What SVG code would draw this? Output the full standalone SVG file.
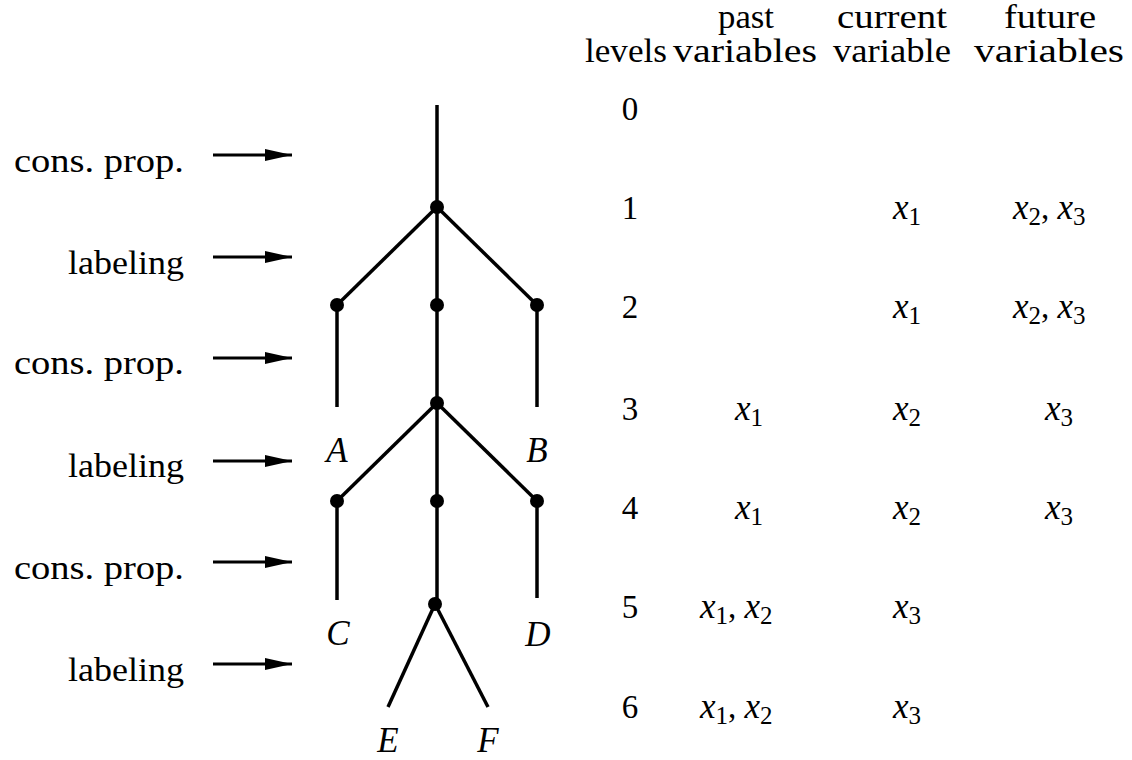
<svg xmlns="http://www.w3.org/2000/svg" width="1132" height="760" viewBox="0 0 1132 760" font-family="'Liberation Serif', 'DejaVu Serif', 'Noto Serif', 'Nimbus Roman', FreeSerif, Times, serif">
<defs>
<style>
text{font-family:'Liberation Serif', 'DejaVu Serif', 'Noto Serif', 'Nimbus Roman', FreeSerif, Times, serif;fill:#000;font-size:33px}
.it{font-style:italic;font-size:35px}
.sub{font-size:25px;font-style:normal}
.lab{text-anchor:end}
.mid{text-anchor:middle}
.edge{stroke:#000;stroke-width:3.5;fill:none;stroke-linecap:butt}
.arr{stroke:#000;stroke-width:3;fill:none}
.dot{fill:#000}
</style>
<marker id="ah" markerWidth="28" markerHeight="14" refX="27" refY="7" orient="auto" markerUnits="userSpaceOnUse">
<path d="M0,1 L27,7 L0,13 Z" fill="#000"/>
</marker>
</defs>
<rect width="1132" height="760" fill="#fff"/>

<g id="connectors">
<line class="edge" x1="437" y1="105" x2="437" y2="604"/>
<line class="edge" x1="437" y1="207" x2="337" y2="305"/>
<line class="edge" x1="437" y1="207" x2="537" y2="305"/>
<line class="edge" x1="337" y1="305" x2="337" y2="407"/>
<line class="edge" x1="537" y1="305" x2="537" y2="407"/>
<line class="edge" x1="437" y1="403" x2="337" y2="501"/>
<line class="edge" x1="437" y1="403" x2="537" y2="501"/>
<line class="edge" x1="337" y1="501" x2="337" y2="600"/>
<line class="edge" x1="537" y1="501" x2="537" y2="598"/>
<line class="edge" x1="435" y1="604" x2="388" y2="707"/>
<line class="edge" x1="435" y1="604" x2="488" y2="707"/>
<line class="arr" x1="213" y1="155" x2="292" y2="155" marker-end="url(#ah)"/>
<line class="arr" x1="213" y1="257" x2="292" y2="257" marker-end="url(#ah)"/>
<line class="arr" x1="213" y1="358" x2="292" y2="358" marker-end="url(#ah)"/>
<line class="arr" x1="213" y1="461" x2="292" y2="461" marker-end="url(#ah)"/>
<line class="arr" x1="213" y1="562" x2="292" y2="562" marker-end="url(#ah)"/>
<line class="arr" x1="213" y1="664" x2="292" y2="664" marker-end="url(#ah)"/>
</g>

<g id="nodes">
<circle id="n0" class="dot" cx="437" cy="207" r="7"/>
<circle id="n1" class="dot" cx="337" cy="305" r="7"/>
<circle id="n2" class="dot" cx="437" cy="305" r="7"/>
<circle id="n3" class="dot" cx="537" cy="305" r="7"/>
<circle id="n4" class="dot" cx="437" cy="403" r="7"/>
<circle id="n5" class="dot" cx="337" cy="501" r="7"/>
<circle id="n6" class="dot" cx="437" cy="501" r="7"/>
<circle id="n7" class="dot" cx="537" cy="501" r="7"/>
<circle id="n8" class="dot" cx="435" cy="604" r="7"/>
</g>

<g id="leaf-labels">
<text class="it mid" x="337" y="462">A</text>
<text class="it mid" x="537" y="462">B</text>
<text class="it mid" x="338" y="645">C</text>
<text class="it mid" x="538" y="646">D</text>
<text class="it mid" x="388" y="752">E</text>
<text class="it mid" x="488" y="752">F</text>
</g>

<g id="step-labels">
<text class="lab" x="184" y="172" textLength="170" lengthAdjust="spacingAndGlyphs">cons. prop.</text>
<text class="lab" x="184" y="274" textLength="116" lengthAdjust="spacingAndGlyphs">labeling</text>
<text class="lab" x="184" y="374" textLength="170" lengthAdjust="spacingAndGlyphs">cons. prop.</text>
<text class="lab" x="184" y="477" textLength="116" lengthAdjust="spacingAndGlyphs">labeling</text>
<text class="lab" x="184" y="579" textLength="170" lengthAdjust="spacingAndGlyphs">cons. prop.</text>
<text class="lab" x="184" y="681" textLength="116" lengthAdjust="spacingAndGlyphs">labeling</text>
</g>

<g id="header">
<text class="mid" x="626" y="62" textLength="82" lengthAdjust="spacingAndGlyphs">levels</text>
<text class="mid" x="746" y="28" textLength="56" lengthAdjust="spacingAndGlyphs">past</text>
<text class="mid" x="745" y="62" textLength="144" lengthAdjust="spacingAndGlyphs">variables</text>
<text class="mid" x="892" y="28" textLength="110" lengthAdjust="spacingAndGlyphs">current</text>
<text class="mid" x="892" y="62" textLength="118" lengthAdjust="spacingAndGlyphs">variable</text>
<text class="mid" x="1050" y="28" textLength="92" lengthAdjust="spacingAndGlyphs">future</text>
<text class="mid" x="1049" y="62" textLength="150" lengthAdjust="spacingAndGlyphs">variables</text>
</g>

<g id="levels">
<text class="mid" x="630" y="120">0</text>
<text class="mid" x="630" y="219">1</text>
<text class="mid" x="630" y="318">2</text>
<text class="mid" x="630" y="420">3</text>
<text class="mid" x="630" y="519">4</text>
<text class="mid" x="630" y="618">5</text>
<text class="mid" x="630" y="718">6</text>
</g>

<g id="cells">
<text x="893" y="219"><tspan class="it">x</tspan><tspan class="sub" dy="6">1</tspan></text>
<text x="1013" y="219"><tspan class="it">x</tspan><tspan class="sub" dy="6">2</tspan><tspan dy="-6">, </tspan><tspan class="it">x</tspan><tspan class="sub" dy="6">3</tspan></text>
<text x="893" y="318"><tspan class="it">x</tspan><tspan class="sub" dy="6">1</tspan></text>
<text x="1013" y="318"><tspan class="it">x</tspan><tspan class="sub" dy="6">2</tspan><tspan dy="-6">, </tspan><tspan class="it">x</tspan><tspan class="sub" dy="6">3</tspan></text>
<text x="735" y="420"><tspan class="it">x</tspan><tspan class="sub" dy="6">1</tspan></text>
<text x="893" y="420"><tspan class="it">x</tspan><tspan class="sub" dy="6">2</tspan></text>
<text x="1045" y="420"><tspan class="it">x</tspan><tspan class="sub" dy="6">3</tspan></text>
<text x="735" y="519"><tspan class="it">x</tspan><tspan class="sub" dy="6">1</tspan></text>
<text x="893" y="519"><tspan class="it">x</tspan><tspan class="sub" dy="6">2</tspan></text>
<text x="1045" y="519"><tspan class="it">x</tspan><tspan class="sub" dy="6">3</tspan></text>
<text x="700" y="618"><tspan class="it">x</tspan><tspan class="sub" dy="6">1</tspan><tspan dy="-6">, </tspan><tspan class="it">x</tspan><tspan class="sub" dy="6">2</tspan></text>
<text x="893" y="618"><tspan class="it">x</tspan><tspan class="sub" dy="6">3</tspan></text>
<text x="700" y="718"><tspan class="it">x</tspan><tspan class="sub" dy="6">1</tspan><tspan dy="-6">, </tspan><tspan class="it">x</tspan><tspan class="sub" dy="6">2</tspan></text>
<text x="893" y="718"><tspan class="it">x</tspan><tspan class="sub" dy="6">3</tspan></text>
</g>
</svg>
